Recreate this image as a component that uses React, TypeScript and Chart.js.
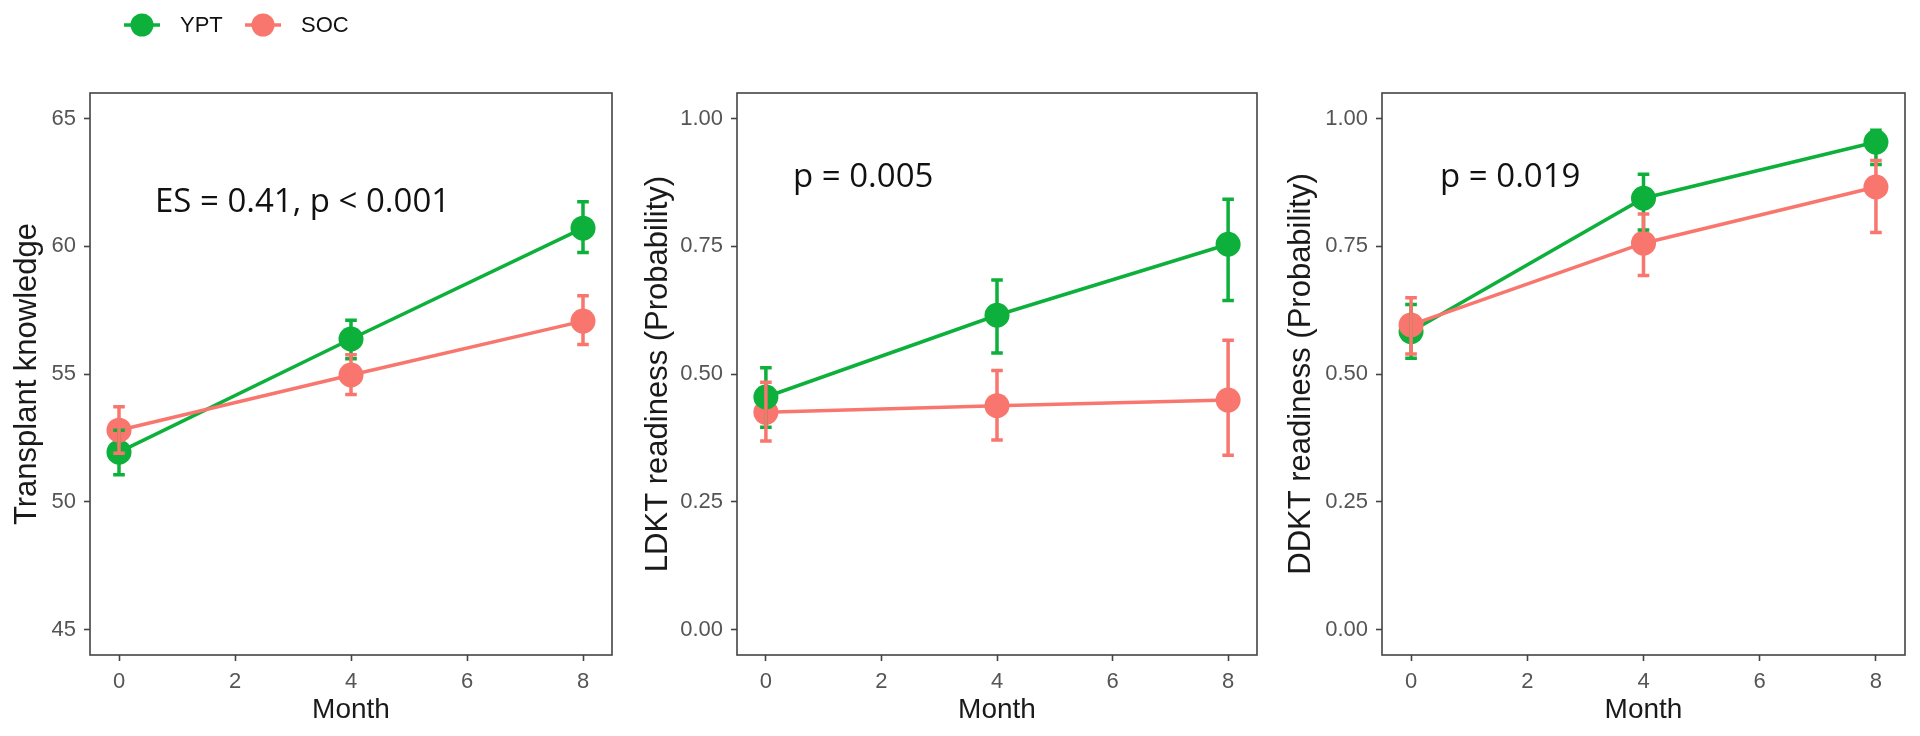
import React, { useEffect, useRef } from 'react';
import { Chart, registerables } from 'chart.js';

Chart.register(...registerables);

// ---------- data ----------
const months = [0, 4, 8];
const xTicks = [0, 2, 4, 6, 8];
const seriesNames = ['YPT', 'SOC'];

const knowledgeYPT = [51.94, 56.37, 60.71];
const knowledgeYPTLo = [51.06, 55.6, 59.76];
const knowledgeYPTHi = [52.8, 57.1, 61.74];
const knowledgeSOC = [52.8, 54.96, 57.07];
const knowledgeSOCLo = [51.9, 54.2, 56.15];
const knowledgeSOCHi = [53.72, 55.75, 58.06];

const ldktYPT = [0.455, 0.615, 0.754];
const ldktYPTLo = [0.396, 0.541, 0.644];
const ldktYPTHi = [0.512, 0.684, 0.842];
const ldktSOC = [0.425, 0.438, 0.449];
const ldktSOCLo = [0.369, 0.371, 0.341];
const ldktSOCHi = [0.484, 0.507, 0.566];

const ddktYPT = [0.583, 0.844, 0.954];
const ddktYPTLo = [0.531, 0.782, 0.91];
const ddktYPTHi = [0.636, 0.891, 0.977];
const ddktSOC = [0.596, 0.756, 0.866];
const ddktSOCLo = [0.539, 0.693, 0.777];
const ddktSOCHi = [0.649, 0.813, 0.918];

const knowledgeTicks = [45, 50, 55, 60, 65];
const knowledgeTickLabels = ['45', '50', '55', '60', '65'];
const probTicks = [0, 0.25, 0.5, 0.75, 1];
const probTickLabels = ['0.00', '0.25', '0.50', '0.75', '1.00'];

const titles = ['Transplant knowledge', 'LDKT readiness (Probability)', 'DDKT readiness (Probability)'];
const notes = ['ES = 0.41, p < 0.001', 'p = 0.005', 'p = 0.019'];

// ---------- style ----------
const COLORS = ['#0DB03A', '#F8766D'];
const AXIS_FONT = 'Liberation Sans, Arial, sans-serif';
const NOTE_FONT = '"Open Sans", "Noto Sans", sans-serif';

const panels = [
  {
    title: titles[0], note: notes[0], noteX: 0.62, noteY: 61.34,
    ypt: [knowledgeYPT, knowledgeYPTLo, knowledgeYPTHi], soc: [knowledgeSOC, knowledgeSOCLo, knowledgeSOCHi],
    yMin: 44, yMax: 66, ticks: knowledgeTicks, tickLabels: knowledgeTickLabels,
    left: 0, yWidth: 90, padRight: 28, titlePad: 9, socOnTop: true, legend: true,
  },
  {
    title: titles[1], note: notes[1], noteX: 0.47, noteY: 0.866,
    ypt: [ldktYPT, ldktYPTLo, ldktYPTHi], soc: [ldktSOC, ldktSOCLo, ldktSOCHi],
    yMin: -0.05, yMax: 1.05, ticks: probTicks, tickLabels: probTickLabels,
    left: 640, yWidth: 97, padRight: 23, titlePad: 0, socOnTop: false, legend: false,
  },
  {
    title: titles[2], note: notes[2], noteX: 0.5, noteY: 0.866,
    ypt: [ddktYPT, ddktYPTLo, ddktYPTHi], soc: [ddktSOC, ddktSOCLo, ddktSOCHi],
    yMin: -0.05, yMax: 1.05, ticks: probTicks, tickLabels: probTickLabels,
    left: 1280, yWidth: 102, padRight: 15, titlePad: 3, socOnTop: true, legend: false,
  },
];

const overlayPlugin = (cfg: any) => ({
  id: 'overlay',
  afterDatasetsDraw(chart: any) {
    const { ctx, chartArea, scales } = chart;
    const xs = scales.x;
    const ys = scales.y;
    ctx.save();
    // error bars
    const capHalf = Math.abs(xs.getPixelForValue(0.1) - xs.getPixelForValue(0));
    chart.data.datasets.forEach((ds: any, di: number) => {
      const meta = chart.getDatasetMeta(di);
      ctx.strokeStyle = ds.borderColor;
      ctx.lineWidth = 3.5;
      ds.errLo.forEach((lo: number, i: number) => {
        const x = meta.data[i].x;
        const yl = ys.getPixelForValue(lo);
        const yh = ys.getPixelForValue(ds.errHi[i]);
        ctx.beginPath();
        ctx.moveTo(x, yl);
        ctx.lineTo(x, yh);
        ctx.moveTo(x - capHalf, yl);
        ctx.lineTo(x + capHalf, yl);
        ctx.moveTo(x - capHalf, yh);
        ctx.lineTo(x + capHalf, yh);
        ctx.stroke();
      });
    });
    // panel border
    ctx.strokeStyle = '#444';
    ctx.lineWidth = 1.6;
    ctx.strokeRect(chartArea.left, chartArea.top, chartArea.right - chartArea.left, chartArea.bottom - chartArea.top);
    // annotation
    ctx.fillStyle = '#111';
    ctx.font = `33px ${NOTE_FONT}`;
    ctx.textAlign = 'left';
    ctx.textBaseline = 'alphabetic';
    ctx.fillText(cfg.note, xs.getPixelForValue(cfg.noteX), ys.getPixelForValue(cfg.noteY));
    // legend
    if (cfg.legend) {
      const items = [
        { name: seriesNames[0], color: COLORS[0], x: 124 },
        { name: seriesNames[1], color: COLORS[1], x: 245 },
      ];
      const ly = 25;
      items.forEach((it) => {
        ctx.strokeStyle = it.color;
        ctx.lineWidth = 3.5;
        ctx.beginPath();
        ctx.moveTo(it.x, ly);
        ctx.lineTo(it.x + 36, ly);
        ctx.stroke();
        ctx.fillStyle = it.color;
        ctx.beginPath();
        ctx.arc(it.x + 18, ly, 11.5, 0, Math.PI * 2);
        ctx.fill();
        ctx.fillStyle = '#111';
        ctx.font = `22px ${AXIS_FONT}`;
        ctx.textBaseline = 'middle';
        ctx.fillText(it.name, it.x + 56, ly + 1);
      });
    }
    ctx.restore();
  },
});

function Panel({ cfg }: { cfg: any }) {
  const ref = useRef<HTMLCanvasElement>(null);
  useEffect(() => {
    const mk = (name: string, color: string, arr: number[][], order: number) => ({
      label: name,
      data: months.map((m, i) => ({ x: m, y: arr[0][i] })),
      errLo: arr[1],
      errHi: arr[2],
      borderColor: color,
      backgroundColor: color,
      borderWidth: 3.5,
      pointRadius: 12.5,
      pointHoverRadius: 12.5,
      pointBorderWidth: 0,
      pointBackgroundColor: color,
      tension: 0,
      order,
    });
    const chart = new Chart(ref.current!, {
      type: 'line',
      data: {
        datasets: [
          mk(seriesNames[0], COLORS[0], cfg.ypt, cfg.socOnTop ? 1 : 0),
          mk(seriesNames[1], COLORS[1], cfg.soc, cfg.socOnTop ? 0 : 1),
        ] as any,
      },
      options: {
        animation: false,
        responsive: false,
        devicePixelRatio: 1,
        layout: { padding: { top: 93, bottom: 0, left: 0, right: cfg.padRight } },
        plugins: { legend: { display: false }, tooltip: { enabled: false } },
        scales: {
          x: {
            type: 'linear',
            min: -0.5,
            max: 8.5,
            afterBuildTicks: (s: any) => { s.ticks = xTicks.map((v) => ({ value: v })); },
            afterFit: (s: any) => { s.height = 81; },
            grid: { drawOnChartArea: false, drawTicks: true, tickLength: 6, tickColor: '#444', tickWidth: 1.6 },
            border: { display: false },
            ticks: {
              color: '#555', font: { family: AXIS_FONT, size: 22 }, padding: 8,
              maxRotation: 0, autoSkip: false, callback: (v: any) => String(v),
            },
            title: {
              display: true, text: 'Month', color: '#1A1A1A',
              font: { family: AXIS_FONT, size: 28 }, padding: { top: 0, bottom: 9 },
            },
          },
          y: {
            type: 'linear',
            min: cfg.yMin,
            max: cfg.yMax,
            afterBuildTicks: (s: any) => { s.ticks = cfg.ticks.map((v: number) => ({ value: v })); },
            afterFit: (s: any) => { s.width = cfg.yWidth; },
            grid: { drawOnChartArea: false, drawTicks: true, tickLength: 6, tickColor: '#444', tickWidth: 1.6 },
            border: { display: false },
            ticks: {
              color: '#555', font: { family: AXIS_FONT, size: 22 }, padding: 8, autoSkip: false,
              callback: (_v: any, i: number) => cfg.tickLabels[i],
            },
            title: {
              display: true, text: cfg.title, color: '#1A1A1A',
              font: { family: AXIS_FONT, size: 31 }, padding: { top: cfg.titlePad, bottom: 0 },
            },
          },
        },
      } as any,
      plugins: [overlayPlugin(cfg)],
    });
    return () => chart.destroy();
  }, []);
  return (
    <canvas
      ref={ref}
      width={640}
      height={736}
      style={{ position: 'absolute', left: cfg.left, top: 0, width: 640, height: 736 }}
    />
  );
}

export default function App() {
  return (
    <div style={{ position: 'absolute', left: 0, top: 0, width: 1920, height: 736, background: '#fff', overflow: 'hidden' }}>
      {panels.map((p, i) => (
        <Panel key={i} cfg={p} />
      ))}
    </div>
  );
}
